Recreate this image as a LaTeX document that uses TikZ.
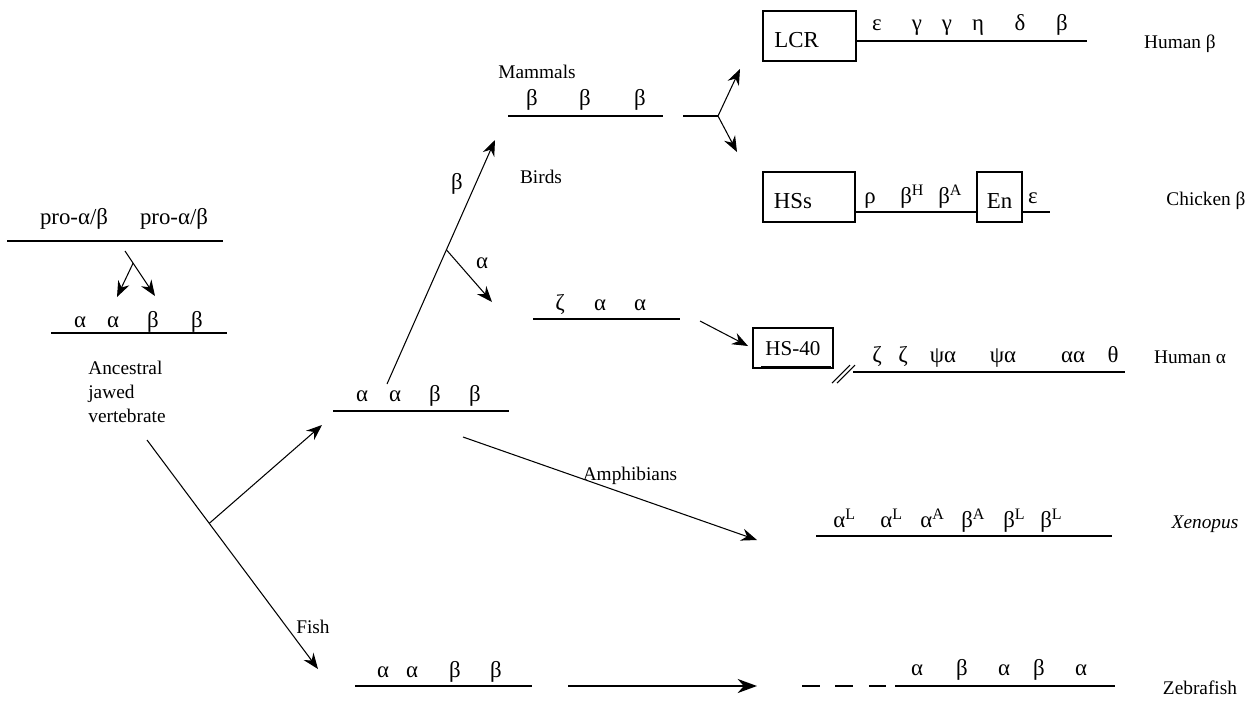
\documentclass[tikz,border=0pt]{standalone}
\usepackage{fontspec}
\setmainfont{Liberation Serif}
\usetikzlibrary{arrows.meta}

\begin{document}
\begin{tikzpicture}[
    x=0.02cm, y=-0.02cm,
    font=\fontsize{11}{13}\selectfont,
    gene/.style={anchor=base, inner sep=0pt, font=\fontsize{13}{14}\selectfont},
    supgene/.style={gene, anchor=base west},
    taxon/.style={anchor=base, inner sep=0pt},
    chrom/.style={line width=0.7pt},
    box/.style={rectangle, draw, line width=0.7pt, minimum height=1cm,
                font=\fontsize{13}{14}\selectfont, text height=13pt, text depth=0pt},
    lbox/.style={box, inner xsep=6pt, text width=40pt, align=left},
    arrow/.style={line width=0.6pt, -{Stealth[length=9pt, width=7pt, inset=3pt]}},
    bigarrow/.style={line width=1.2pt, -{Stealth[length=11pt, width=8pt, inset=3.5pt]}}
]
\useasboundingbox (0,0) rectangle (1249,707);

% Ancestral jawed vertebrate
\node[gene] (pro1) at (74,224) {pro-α/β};
\node[gene] (pro2) at (174,224) {pro-α/β};
\draw[chrom] (7,241) -- (223,241);
\coordinate (proFork) at (125,251);
\coordinate (proA) at (117,297);
\coordinate (proB) at (155,296);
\draw[arrow] (proFork) -- (proB) coordinate[pos=0.27] (proSplit);
\draw[arrow] (proSplit) -- (proA);

\foreach \g/\x [count=\i] in {α/80, α/113, β/153, β/197}
    \node[gene] (anc\i) at (\x,327) {\g};
\draw[chrom] (51,333) -- (227,333);
\node[anchor=north west, inner sep=0pt, align=left,
      font=\fontsize{11}{13.6}\selectfont] (ancestral) at (88,361)
      {Ancestral\\jawed\\vertebrate};

% Fish / tetrapod split
\coordinate (vertTop) at (147,440);
\coordinate (fishTip) at (318,669);
\coordinate (tetTip) at (322,425);
\draw[arrow] (vertTop) -- (fishTip) coordinate[pos=0.364] (vertSplit);
\draw[arrow] (vertSplit) -- (tetTip);
\node[taxon] (fish) at (313,633) {Fish};

% Tetrapods
\foreach \g/\x [count=\i] in {α/362, α/395, β/435, β/475}
    \node[gene] (tet\i) at (\x,401) {\g};
\draw[chrom] (333,411) -- (509,411);

\coordinate (tetBase) at (387,384);
\coordinate (betaTip) at (495,140);
\coordinate (alphaTip) at (492,302);
\draw[arrow] (tetBase) -- (betaTip) coordinate[pos=0.55] (tetSplit);
\draw[arrow] (tetSplit) -- (alphaTip);
\node[gene] (betaLab) at (457,189) {β};
\node[gene] (alphaLab) at (482,268) {α};

% Beta cluster
\foreach \x [count=\i] in {532, 585, 640}
    \node[gene] (bb\i) at (\x,105) {β};
\draw[chrom] (508,116) -- (663,116);
\coordinate (forkL) at (683,116);
\coordinate (forkM) at (718,116);
\coordinate (mamTip) at (740,69);
\coordinate (birdTip) at (737,152);
\draw[chrom] (forkL) -- (forkM);
\draw[arrow] (forkM) -- (mamTip);
\draw[arrow] (forkM) -- (birdTip);
\node[taxon] (mammals) at (537,78) {Mammals};
\node[taxon] (birds) at (541,183) {Birds};

% Human beta
\node[lbox, minimum width=1.86cm] (lcr) at (809.5,36) {LCR};
\draw[chrom] (856,41) -- (1087,41);
\foreach \g/\x [count=\i] in {ε/877, γ/917, γ/947, η/978, δ/1020, β/1062}
    \node[gene] (hb\i) at (\x,30) {\g};
\node[taxon] (humanb) at (1180,48) {Human β};

% Chicken beta
\node[lbox, minimum width=1.84cm] (hss) at (809,197) {HSs};
\node[box, minimum width=0.9cm, inner xsep=2pt] (en) at (999.5,197) {En};
\draw[chrom] (855,212) -- (977,212);
\draw[chrom] (1022,212) -- (1050,212);
\node[gene] (cb1) at (870,203) {ρ};
\node[supgene] (cb2) at (900,203) {β\textsuperscript{H}};
\node[supgene] (cb3) at (938,203) {β\textsuperscript{A}};
\node[gene] (cb4) at (1033,203) {ε};
\node[taxon] (chickenb) at (1206,205) {Chicken β};

% Alpha cluster
\foreach \g/\x [count=\i] in {ζ/560, α/600, α/640}
    \node[gene] (aa\i) at (\x,310) {\g};
\draw[chrom] (533,319) -- (680,319);
\coordinate (aaTail) at (700,321);
\coordinate (aaTip) at (748,346);
\draw[arrow] (aaTail) -- (aaTip);

% Human alpha
\node[box, minimum width=1.6cm, minimum height=0.8cm, inner xsep=2pt,
      font=\fontsize{12}{13}\selectfont, text height=9pt] (hs40) at (793,348) {HS-40};
\draw[line width=0.7pt] ([shift={(9,-2)}]hs40.south west) -- ([shift={(-3,-2)}]hs40.south east);
\draw[line width=0.6pt] (832,383) -- (850,365) (837,383) -- (855,365);
\draw[chrom] (853,372) -- (1125,372);
\foreach \g/\x [count=\i] in {ζ/877, ζ/903, ψα/943, ψα/1003, αα/1073, θ/1113}
    \node[gene] (ha\i) at (\x,362) {\g};
\node[taxon] (humana) at (1190,363) {Human α};

% Amphibians
\coordinate (ampTail) at (463,437);
\coordinate (ampTip) at (757,540);
\draw[arrow] (ampTail) -- (ampTip);
\node[taxon] (amphibians) at (630,480) {Amphibians};
\foreach \g/\s/\x [count=\i] in {α/L/833, α/L/880, α/A/920, β/A/961, β/L/1003, β/L/1040}
    \node[supgene] (xl\i) at (\x,527) {\g\textsuperscript{\s}};
\draw[chrom] (816,536) -- (1112,536);
\node[taxon, font=\fontsize{11}{13}\selectfont\itshape] (xenopus) at (1205,528) {Xenopus};

% Zebrafish
\foreach \g/\x [count=\i] in {α/383, α/412, β/455, β/496}
    \node[gene] (fz\i) at (\x,677) {\g};
\draw[chrom] (355,686) -- (532,686);
\coordinate (zfTail) at (568,686);
\coordinate (zfTip) at (757,686);
\draw[bigarrow] (zfTail) -- (zfTip);
\draw[chrom, dash pattern=on 10pt off 9pt] (802,686) -- (888,686);
\draw[chrom] (895,686) -- (1115,686);
\foreach \g/\x [count=\i] in {α/917, β/962, α/1004, β/1039, α/1081}
    \node[gene] (zf\i) at (\x,675) {\g};
\node[taxon] (zebrafish) at (1200,694) {Zebrafish};

\end{tikzpicture}
\end{document}
